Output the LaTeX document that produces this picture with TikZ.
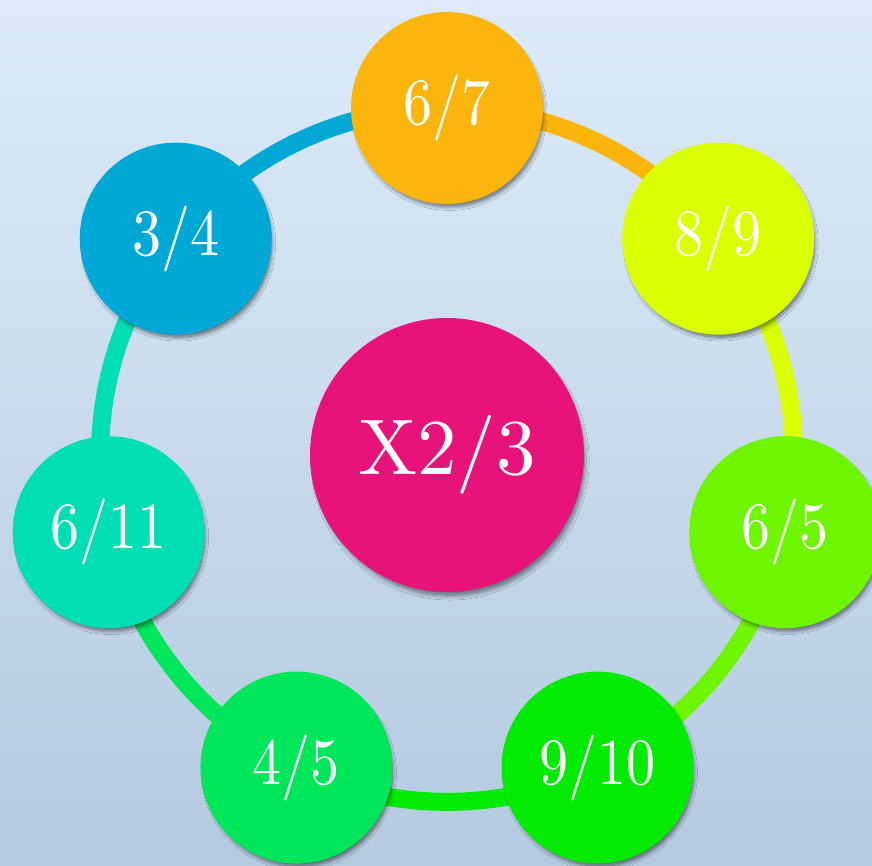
\documentclass[tikz,border=0pt]{standalone}
\usepackage{graphicx}
\usetikzlibrary{shadows.blur,calc}
\font\ringfont=cmr10 at 66pt
\font\hubfont=cmr10 at 79pt
\definecolor{bgtop}{HTML}{DDEBF9}
\definecolor{bgbot}{HTML}{B4CADF}
\definecolor{cA}{HTML}{FBB50C}
\definecolor{cB}{HTML}{D9FF00}
\definecolor{cC}{HTML}{6EF500}
\definecolor{cD}{HTML}{03EB03}
\definecolor{cE}{HTML}{00E65A}
\definecolor{cF}{HTML}{00DFB4}
\definecolor{cG}{HTML}{00A8D6}
\definecolor{cM}{HTML}{E8137A}
\newcommand{\ringtext}[1]{\scalebox{0.88}[1]{\ringfont #1}}
\tikzset{
  ball/.style={circle, minimum size=192pt, inner sep=0pt, text=white,
    blur shadow={shadow xshift=2.5pt, shadow yshift=-5pt, shadow scale=0.975, shadow blur steps=10, shadow blur radius=4pt, shadow opacity=55}},
  hub/.style={circle, minimum size=274pt, inner sep=0pt, text=white, fill=cM,
    blur shadow={shadow xshift=3pt, shadow yshift=-6pt, shadow scale=0.98, shadow blur steps=10, shadow blur radius=5pt, shadow opacity=55}},
  seg/.style={line width=18pt, bend left=25.714, looseness=0.896}
}
\begin{document}
\begin{tikzpicture}[x=1pt,y=1pt]
\useasboundingbox (0,0) rectangle (872,865);
\shade[top color=bgtop, bottom color=bgbot] (0,0) rectangle (872,865);
\coordinate (C) at (447,410);
\foreach \i in {0,...,6} {
  \coordinate (p\i) at ($(C)+({90-\i*360/7}:347)$);
}
\draw[seg, cA] (p0) to (p1);
\draw[seg, cB] (p1) to (p2);
\draw[seg, cC] (p2) to (p3);
\draw[seg, cD] (p3) to (p4);
\draw[seg, cE] (p4) to (p5);
\draw[seg, cF] (p5) to (p6);
\draw[seg, cG] (p6) to (p0);
\node[ball, fill=cA] (n0) at (p0) {\ringtext{6/7}};
\node[ball, fill=cB] (n1) at (p1) {\ringtext{8/9}};
\node[ball, fill=cC] (n2) at (p2) {\ringtext{6/5}};
\node[ball, fill=cD] (n3) at (p3) {\ringtext{9/10}};
\node[ball, fill=cE] (n4) at (p4) {\ringtext{4/5}};
\node[ball, fill=cF] (n5) at (p5) {\ringtext{6/11}};
\node[ball, fill=cG] (n6) at (p6) {\ringtext{3/4}};
\node[hub] (hub) at (C) {\hubfont X2/3};
\end{tikzpicture}
\end{document}
